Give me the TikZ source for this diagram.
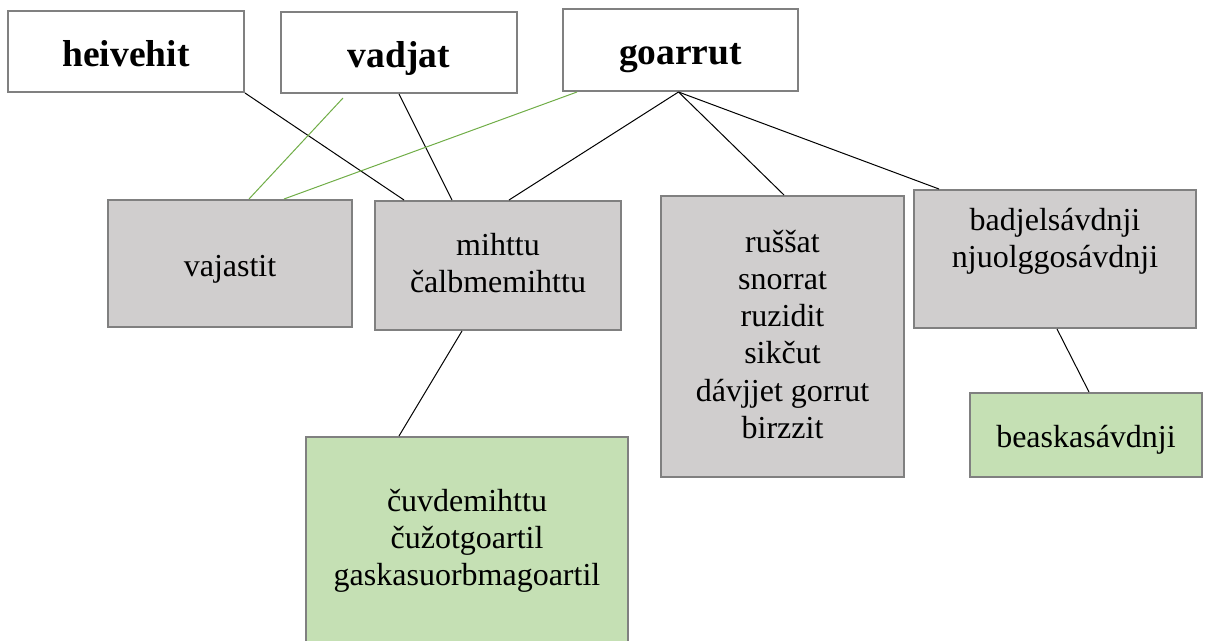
\documentclass[tikz,border=0pt]{standalone}
\usepackage{fontspec}
\setmainfont{Liberation Serif}
\usetikzlibrary{positioning}
\definecolor{bordergray}{HTML}{808080}
\definecolor{boxgray}{HTML}{D0CECE}
\definecolor{boxgreen}{HTML}{C5E0B4}
\definecolor{linegreen}{HTML}{70AD47}
\newcommand{\cellstrut}{\rule[-4.6pt]{0pt}{37.2pt}}
\tikzset{
    cellw/.style = {rectangle, line width=2pt, draw=bordergray, fill=white, align=center, inner sep=0pt, text height=35.5pt, text depth=6.5pt, font=\fontsize{37.5}{42}\selectfont\bfseries},
    cellg/.style = {rectangle, line width=2pt, draw=bordergray, fill=boxgray, align=center, inner sep=0pt, execute at begin node=\cellstrut, execute at end node=\cellstrut, font=\fontsize{32}{37.2}\selectfont},
    cellgr/.style = {cellg, fill=boxgreen},
    edgen/.style = {line width=1pt, black},
    edgeg/.style = {line width=1pt, linegreen}
}
\begin{document}
\begin{tikzpicture}[x=1pt, y=-1pt]
\useasboundingbox (0,0) rectangle (1217,640);
%
\node[cellw, minimum width=236pt, minimum height=81pt] at (126, 51.5) (heivehit) {heivehit};
\node[cellw, minimum width=236pt, minimum height=81pt] at (399, 52.5) (vadjat) {vadjat};
\node[cellw, minimum width=235pt, minimum height=82pt] at (680.5, 50) (goarrut) {goarrut};
%
\node[cellg, minimum width=244pt, minimum height=127pt] at (230, 263.5) (vajastit) {vajastit};
\node[cellg, minimum width=246pt, minimum height=129pt] at (498, 265.5) (mihttu) {mihttu\\ čalbmemihttu};
\node[cellg, minimum width=243pt, minimum height=281pt] at (782.5, 336.5) (russat) {ruššat\\ snorrat\\ ruzidit\\ sikčut\\ dávjjet gorrut\\ birzzit};
\node[cellg, minimum width=282pt, minimum height=138pt] at (1055, 259) (badjel) {badjelsávdnji\\ njuolggosávdnji\\ };
%
\node[cellgr, minimum width=232pt, minimum height=84pt] at (1086, 435) (beaska) {beaskasávdnji};
\node[cellgr, minimum width=322pt, minimum height=208pt] at (467, 541) (cuvde) {čuvdemihttu\\ čužotgoartil\\ gaskasuorbmagoartil};
%
\draw[edgen] (heivehit.south east) -- ([xshift=30pt]mihttu.north west);
\draw[edgen] (vadjat.south) -- ([xshift=78pt]mihttu.north west);
\draw[edgeg] ([xshift=-56pt, yshift=-4pt]vadjat.south) -- ([xshift=142pt]vajastit.north west);
\draw[edgeg] ([xshift=15pt]goarrut.south west) -- ([xshift=177pt]vajastit.north west);
\draw[edgen] ([xshift=-2pt]goarrut.south) -- ([xshift=135pt]mihttu.north west);
\draw[edgen] ([xshift=-2pt]goarrut.south) -- ([xshift=124pt]russat.north west);
\draw[edgen] ([xshift=-2pt]goarrut.south) -- ([xshift=26pt]badjel.north west);
\draw[edgen] ([xshift=88pt]mihttu.south west) -- ([xshift=94pt]cuvde.north west);
\draw[edgen] ([xshift=144pt]badjel.south west) -- ([xshift=120pt]beaska.north west);

\end{tikzpicture}
\end{document}
